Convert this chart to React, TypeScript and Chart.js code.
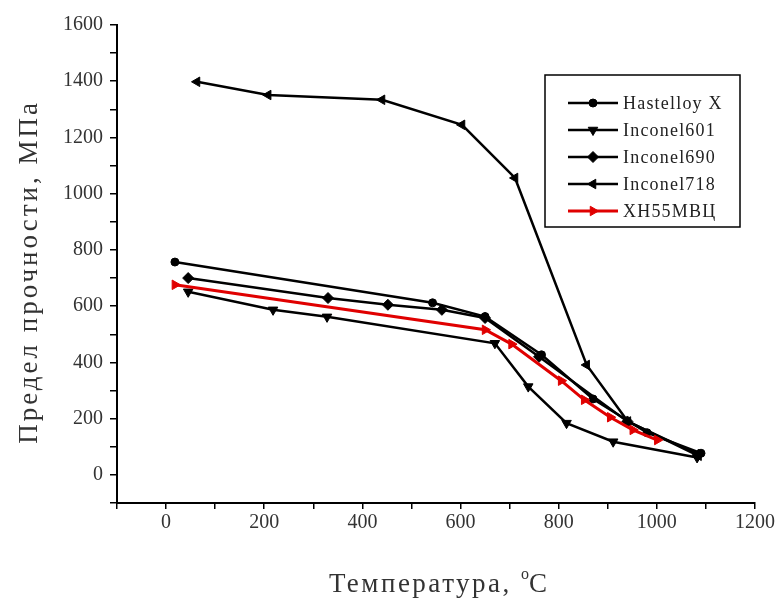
import React, { useEffect, useRef } from 'react';
import { Chart, registerables } from 'chart.js';

Chart.register(...registerables);

// ---- data ----
const seriesNames = ['Hastelloy X', 'Inconel601', 'Inconel690', 'Inconel718', 'ХН55МВЦ'];

const hastelloyTemp = [18, 543, 650, 765, 870, 980, 1090];
const hastelloyStrength = [757, 612, 563, 427, 270, 150, 77];

const inconel601Temp = [45, 218, 328, 670, 738, 816, 911, 1082];
const inconel601Strength = [651, 587, 562, 468, 314, 184, 118, 62];

const inconel690Temp = [45, 330, 452, 562, 650, 760, 940, 1085];
const inconel690Strength = [700, 629, 605, 587, 558, 420, 190, 72];

const inconel718Temp = [63, 208, 440, 603, 711, 857, 941, 1085];
const inconel718Strength = [1398, 1351, 1334, 1245, 1056, 391, 190, 68];

const xh55Temp = [18, 650, 704, 805, 852, 905, 951, 1001];
const xh55Strength = [676, 516, 465, 335, 267, 205, 160, 124];

const xMin = -100;
const xMax = 1200;
const yMin = -100;
const yMax = 1600;
const tickStep = 100;
const labelStep = 200;

const yTitle = 'Предел прочности, МПа';
const xTitleMain = 'Температура, ';
const xTitleSup = 'o';
const xTitleUnit = 'C';

const SERIF = "'Liberation Serif', 'Times New Roman', serif";

type Marker = { style: string; rotation: number; radius: number };
const markers: Marker[] = [
  { style: 'circle', rotation: 0, radius: 4 },
  { style: 'triangle', rotation: 180, radius: 5.5 },
  { style: 'rectRot', rotation: 0, radius: 5.5 },
  { style: 'triangle', rotation: 270, radius: 5.5 },
  { style: 'triangle', rotation: 90, radius: 5.5 },
];
const colors = ['#000000', '#000000', '#000000', '#000000', '#e00000'];

function drawMarker(ctx: CanvasRenderingContext2D, m: Marker, x: number, y: number, color: string) {
  ctx.save();
  ctx.fillStyle = color;
  ctx.strokeStyle = color;
  ctx.lineWidth = 1;
  ctx.beginPath();
  const r = m.radius;
  if (m.style === 'circle') {
    ctx.arc(x, y, r, 0, Math.PI * 2);
  } else if (m.style === 'rectRot') {
    ctx.moveTo(x, y - r);
    ctx.lineTo(x + r, y);
    ctx.lineTo(x, y + r);
    ctx.lineTo(x - r, y);
  } else {
    let rad = (m.rotation * Math.PI) / 180;
    const step = (2 * Math.PI) / 3;
    ctx.moveTo(x + Math.sin(rad) * r, y - Math.cos(rad) * r);
    rad += step;
    ctx.lineTo(x + Math.sin(rad) * r, y - Math.cos(rad) * r);
    rad += step;
    ctx.lineTo(x + Math.sin(rad) * r, y - Math.cos(rad) * r);
  }
  ctx.closePath();
  ctx.fill();
  ctx.stroke();
  ctx.restore();
}

const overlay = {
  id: 'overlay',
  afterDraw(chart: any) {
    const ctx: CanvasRenderingContext2D = chart.ctx;
    const area = chart.chartArea;
    ctx.save();
    // ---- legend ----
    const lx = 545;
    const ly = 75;
    const lw = 195;
    const lh = 152;
    ctx.fillStyle = '#ffffff';
    ctx.fillRect(lx, ly, lw, lh);
    ctx.strokeStyle = '#000';
    ctx.lineWidth = 1.5;
    ctx.strokeRect(lx, ly, lw, lh);
    ctx.font = `18px ${SERIF}`;
    (ctx as any).letterSpacing = '1.2px';
    ctx.textBaseline = 'middle';
    ctx.textAlign = 'left';
    seriesNames.forEach((name, i) => {
      const yy = ly + 28 + i * 27;
      ctx.strokeStyle = colors[i];
      ctx.lineWidth = i === 4 ? 3 : 2.5;
      ctx.beginPath();
      ctx.moveTo(lx + 23, yy);
      ctx.lineTo(lx + 73, yy);
      ctx.stroke();
      drawMarker(ctx, markers[i], lx + 48, yy, colors[i]);
      ctx.fillStyle = '#222';
      ctx.fillText(name, lx + 78, yy + 1);
    });

    // ---- y title ----
    ctx.fillStyle = '#333';
    ctx.font = `27px ${SERIF}`;
    (ctx as any).letterSpacing = '3px';
    ctx.save();
    ctx.translate(30, 272);
    ctx.rotate(-Math.PI / 2);
    ctx.textAlign = 'center';
    ctx.textBaseline = 'middle';
    ctx.fillText(yTitle, 0, 0);
    ctx.restore();

    // ---- x title ----
    (ctx as any).letterSpacing = '2.5px';
    ctx.font = `27px ${SERIF}`;
    const w1 = ctx.measureText(xTitleMain).width;
    ctx.font = `16px ${SERIF}`;
    (ctx as any).letterSpacing = '0px';
    const w2 = ctx.measureText(xTitleSup).width;
    ctx.font = `27px ${SERIF}`;
    const w3 = ctx.measureText(xTitleUnit).width;
    const total = w1 + w2 + w3;
    const cx = (area.left + area.right) / 2 + 2;
    let x0 = cx - total / 2;
    const base = 592;
    ctx.textAlign = 'left';
    ctx.textBaseline = 'alphabetic';
    (ctx as any).letterSpacing = '2.5px';
    ctx.font = `27px ${SERIF}`;
    ctx.fillText(xTitleMain, x0, base);
    x0 += w1;
    (ctx as any).letterSpacing = '0px';
    ctx.font = `16px ${SERIF}`;
    ctx.fillText(xTitleSup, x0, base - 13);
    x0 += w2;
    ctx.font = `27px ${SERIF}`;
    ctx.fillText(xTitleUnit, x0, base);
    ctx.restore();
  },
};

function pts(xs: number[], ys: number[]) {
  return xs.map((x, i) => ({ x, y: ys[i] }));
}

export default function App() {
  const ref = useRef<HTMLCanvasElement>(null);
  useEffect(() => {
    const canvas = ref.current;
    if (!canvas) return;
    const seriesData = [
      pts(hastelloyTemp, hastelloyStrength),
      pts(inconel601Temp, inconel601Strength),
      pts(inconel690Temp, inconel690Strength),
      pts(inconel718Temp, inconel718Strength),
      pts(xh55Temp, xh55Strength),
    ];
    const datasets = seriesData.map((d, i) => ({
      label: seriesNames[i],
      data: d,
      borderColor: colors[i],
      backgroundColor: colors[i],
      pointBackgroundColor: colors[i],
      pointBorderColor: colors[i],
      borderWidth: i === 4 ? 3 : 2.5,
      pointStyle: markers[i].style,
      pointRotation: markers[i].rotation,
      pointRadius: markers[i].radius,
      pointBorderWidth: 1,
      tension: 0,
      fill: false,
      showLine: true,
      order: i === 4 ? -1 : i,
    }));
    const tickFont = { family: SERIF, size: 20 };
    const labelCb = (v: any) => {
      const n = Math.round(Number(v));
      return n >= 0 && n % labelStep === 0 ? String(n) : '';
    };
    const chart = new Chart(canvas, {
      type: 'line',
      data: { datasets: datasets as any },
      options: {
        responsive: false,
        animation: false,
        devicePixelRatio: 1,
        layout: { padding: { left: 0, right: 28, top: 25, bottom: 0 } },
        plugins: { legend: { display: false }, tooltip: { enabled: false } },
        scales: {
          x: {
            type: 'linear',
            min: xMin,
            max: xMax,
            afterFit: (s: any) => {
              s.height = 101;
            },
            ticks: {
              stepSize: tickStep,
              autoSkip: false,
              maxRotation: 0,
              callback: labelCb,
              font: tickFont,
              color: '#333',
              padding: 2,
            },
            grid: { drawOnChartArea: false, drawTicks: true, tickLength: 6, color: '#000', lineWidth: 1.5 },
            border: { display: true, color: '#000', width: 2 },
          },
          y: {
            type: 'linear',
            min: yMin,
            max: yMax,
            afterFit: (s: any) => {
              s.width = 117;
            },
            ticks: {
              stepSize: tickStep,
              autoSkip: false,
              callback: labelCb,
              font: tickFont,
              color: '#333',
              padding: 7,
            },
            grid: { drawOnChartArea: false, drawTicks: true, tickLength: 7, color: '#000', lineWidth: 1.5 },
            border: { display: true, color: '#000', width: 2 },
          },
        },
      } as any,
      plugins: [overlay],
    });
    return () => chart.destroy();
  }, []);
  return (
    <div style={{ position: 'fixed', left: 0, top: 0, width: 783, height: 604, background: '#fff' }}>
      <canvas ref={ref} width={783} height={604} style={{ display: 'block' }} />
    </div>
  );
}
